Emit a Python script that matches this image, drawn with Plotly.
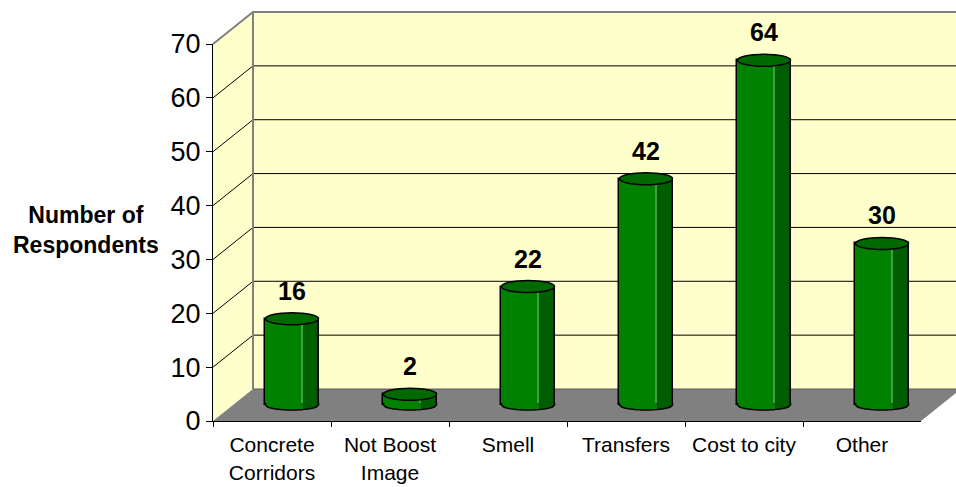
import math
import plotly.graph_objects as go

# ---- data ----
categories = ["Concrete<br>Corridors", "Not Boost<br>Image", "Smell", "Transfers", "Cost to city", "Other"]
respondents = [16, 2, 22, 42, 64, 30]
y_ticks = [0, 10, 20, 30, 40, 50, 60, 70]
y_title = "Number of<br>Respondents"

# ---- geometry (pixels) ----
W, H = 956, 487
X0, Y0 = 213, 421          # front origin
CW = 118                   # category width
YMAX = 70
VU = 377 / YMAX            # px per unit
DX, DY = 40, -32           # depth offset
BARW = 0.45                # bar width (category units)
BW_PX = BARW * CW
YPAD = 3                   # extra value range below 0 on the bar axis (avoids clipping the base)
FONT = "Liberation Sans, Arial, sans-serif"

def px(x):
    return x / W

def py(y):
    return (H - y) / H

def ppath(pts):
    return "M " + " L ".join(f"{px(x):.5f},{py(y):.5f}" for x, y in pts) + " Z"

n = len(categories)
XR = X0 + n * CW

shapes = []
WALL = "#FFFFCC"
BORDER = "#808080"

# back wall
shapes.append(dict(type="path", xref="paper", yref="paper", layer="below",
                   path=ppath([(X0 + DX, Y0 + DY - YMAX * VU), (XR + DX + 20, Y0 + DY - YMAX * VU),
                               (XR + DX + 20, Y0 + DY), (X0 + DX, Y0 + DY)]),
                   fillcolor=WALL, line=dict(width=0)))
# side wall
shapes.append(dict(type="path", xref="paper", yref="paper", layer="below",
                   path=ppath([(X0, Y0 - YMAX * VU), (X0 + DX, Y0 + DY - YMAX * VU),
                               (X0 + DX, Y0 + DY), (X0, Y0)]),
                   fillcolor=WALL, line=dict(width=0)))
# gridlines
for v in y_ticks[1:-1]:
    yf = Y0 - v * VU
    shapes.append(dict(type="line", xref="paper", yref="paper", layer="below",
                       x0=px(X0), y0=py(yf), x1=px(X0 + DX), y1=py(yf + DY),
                       line=dict(color="black", width=1)))
    shapes.append(dict(type="line", xref="paper", yref="paper", layer="below",
                       x0=px(X0 + DX), y0=py(yf + DY), x1=px(XR + DX + 20), y1=py(yf + DY),
                       line=dict(color="black", width=1)))
# floor
shapes.append(dict(type="path", xref="paper", yref="paper", layer="below",
                   path=ppath([(X0, Y0), (XR, Y0), (XR + DX, Y0 + DY), (X0 + DX, Y0 + DY)]),
                   fillcolor="#808080", line=dict(width=0)))
shapes.append(dict(type="line", xref="paper", yref="paper", layer="below",
                   x0=px(X0 + DX), y0=py(Y0 + DY), x1=px(XR + DX), y1=py(Y0 + DY),
                   line=dict(color="#5a5a5a", width=1)))
# wall borders
ytop = Y0 + DY - YMAX * VU
shapes.append(dict(type="path", xref="paper", yref="paper", layer="below",
                   path="M " + " L ".join(f"{px(x):.5f},{py(y):.5f}" for x, y in
                                           [(X0, Y0 - YMAX * VU), (X0 + DX, ytop), (XR + DX + 20, ytop)]),
                   fillcolor="rgba(0,0,0,0)", line=dict(color=BORDER, width=2)))
shapes.append(dict(type="line", xref="paper", yref="paper", layer="below",
                   x0=px(X0 + DX), y0=py(ytop), x1=px(X0 + DX), y1=py(Y0 + DY),
                   line=dict(color=BORDER, width=2)))

# bar caps
LIGHT = "#008200"
DARK = "#005E00"
TOP = "#006A00"
a = BW_PX / 2
b = 5.0
split = -a + 0.70 * BW_PX

def lower_pts(x_from, x_to, steps=16):
    pts = []
    for k in range(steps + 1):
        x = x_from + (x_to - x_from) * k / steps
        t = max(0.0, 1 - (x / a) ** 2)
        pts.append((x, -b * math.sqrt(t)))
    return pts

def pix_path(pts, close=True):
    s = "M " + " L ".join(f"{x:.2f},{y:.2f}" for x, y in pts)
    return s + (" Z" if close else "")

for i, v in enumerate(respondents):
    # bottom: left (light) and right (dark) fills covering the straight base line
    left = [(-a, 2)] + lower_pts(-a, split) + [(split, 2)]
    right = [(split, 2)] + lower_pts(split, a) + [(a, 2)]
    for pts, col in ((left, LIGHT), (right, DARK)):
        shapes.append(dict(type="path", xref="x2", yref="y2", layer="above",
                           xsizemode="pixel", ysizemode="pixel", xanchor=i, yanchor=0,
                           path=pix_path(pts), fillcolor=col, line=dict(width=0)))
    outline = [(-a, 2)] + lower_pts(-a, a, 24) + [(a, 2)]
    shapes.append(dict(type="path", xref="x2", yref="y2", layer="above",
                       xsizemode="pixel", ysizemode="pixel", xanchor=i, yanchor=0,
                       path=pix_path(outline, close=False), fillcolor="rgba(0,0,0,0)",
                       line=dict(color="black", width=1.5)))
    # top cap
    shapes.append(dict(type="circle", xref="x2", yref="y2", layer="above",
                       xsizemode="pixel", ysizemode="pixel", xanchor=i, yanchor=v,
                       x0=-a, x1=a, y0=-6, y1=6,
                       fillcolor=TOP, line=dict(color="black", width=1.5)))

fig = go.Figure()
common = dict(x=categories, y=respondents, xaxis="x2", yaxis="y2", hoverinfo="skip", showlegend=False)
fig.add_trace(go.Bar(**common, width=BARW, offset=-BARW / 2, marker=dict(color=DARK, line=dict(width=0))))
fig.add_trace(go.Bar(**common, width=0.70 * BARW, offset=-BARW / 2, marker=dict(color=LIGHT, line=dict(width=0))))
fig.add_trace(go.Bar(**common, width=0.012, offset=-BARW / 2 + 0.70 * BARW - 0.006,
                     marker=dict(color="#3FA03F", line=dict(width=0))))
fig.add_trace(go.Bar(**common, width=BARW, offset=-BARW / 2,
                     marker=dict(color="rgba(0,0,0,0)", line=dict(color="black", width=1.5))))
# dummy trace for front axes
fig.add_trace(go.Scatter(x=categories, y=[None] * n, xaxis="x", yaxis="y", mode="markers",
                         hoverinfo="skip", showlegend=False))

annotations = [dict(x=c, y=v, xref="x2", yref="y2", text=f"<b>{v}</b>", showarrow=False,
                    yanchor="bottom", yshift=12, font=dict(family=FONT, size=25, color="black"))
               for c, v in zip(categories, respondents)]
annotations.append(dict(x=px(86), y=py(230), xref="paper", yref="paper", text=f"<b>{y_title}</b>",
                        showarrow=False, xanchor="center", yanchor="middle", align="center",
                        font=dict(family=FONT, size=23, color="black")))

fig.update_layout(
    width=W, height=H, margin=dict(l=0, r=0, t=0, b=0),
    paper_bgcolor="white", plot_bgcolor="rgba(0,0,0,0)",
    barmode="overlay", bargap=0, showlegend=False,
    font=dict(family=FONT, color="black"),
    xaxis=dict(domain=[px(X0), px(XR)], anchor="y", type="category",
               categoryorder="array", categoryarray=categories, range=[-0.5, n - 0.5],
               tickson="boundaries", ticks="outside", ticklen=5, tickcolor="black",
               ticklabelstandoff=5,
               showline=True, linecolor="black", linewidth=1, showgrid=False, zeroline=False,
               tickfont=dict(family=FONT, size=21, color="black"), automargin=False, fixedrange=True),
    yaxis=dict(domain=[py(Y0), py(Y0 - YMAX * VU)], anchor="x", range=[0, YMAX],
               tickvals=y_ticks, ticks="outside", ticklen=6, tickcolor="black",
               showline=True, linecolor="black", linewidth=1, showgrid=False, zeroline=False,
               tickfont=dict(family=FONT, size=27, color="black"), automargin=False, fixedrange=True),
    xaxis2=dict(domain=[px(X0 + DX / 2), px(XR + DX / 2)], anchor="y2", type="category",
                categoryorder="array", categoryarray=categories, range=[-0.5, n - 0.5],
                visible=False, fixedrange=True),
    yaxis2=dict(domain=[py(Y0 + DY / 2 + YPAD * VU), py(Y0 + DY / 2 - YMAX * VU)], anchor="x2",
                range=[-YPAD, YMAX], visible=False, fixedrange=True),
    shapes=shapes, annotations=annotations,
)

fig.write_html("out.html", config={"displayModeBar": False})
